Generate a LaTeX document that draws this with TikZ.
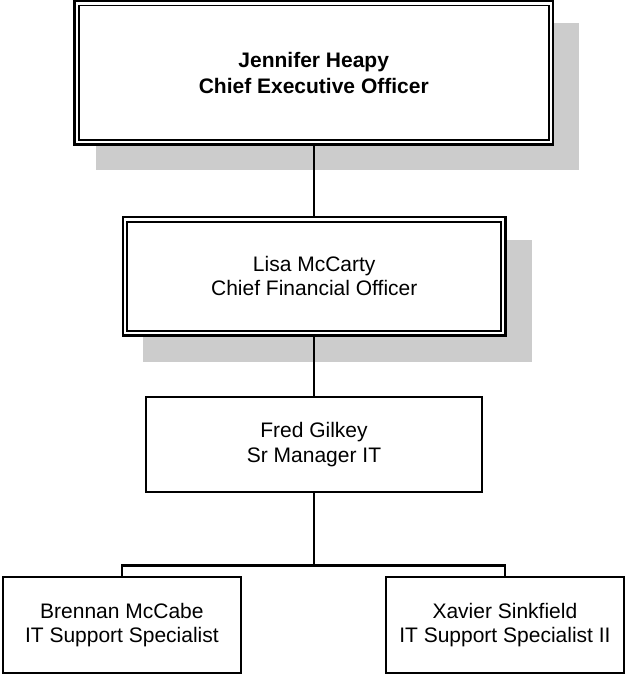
\documentclass[tikz,border=0pt]{standalone}
\usepackage{fontspec}
\setmainfont{Liberation Sans}
\usetikzlibrary{backgrounds}
\definecolor{shadowgray}{RGB}{204,204,204}
\tikzset{
  box/.style={draw=black, fill=white, rectangle, inner sep=0pt, outer sep=0pt,
    align=center, font=\fontsize{21}{24.4}\selectfont},
  outerline/.style={line width=2.4pt},
  innerline/.style={draw=black, line width=1.5pt},
  plainbox/.style={box, line width=2.1pt},
  shadowfill/.style={fill=shadowgray},
  conn/.style={draw=black, line width=2.1pt},
  busline/.style={draw=black, line width=2.5pt}
}
\begin{document}
\begin{tikzpicture}[x=1pt, y=-1pt]
  \useasboundingbox (0,0) rectangle (625,674);

  % boxes
  \node[box, outerline, minimum width=478.5pt, minimum height=143.2pt, font=\fontsize{21}{26.5}\selectfont\bfseries]
    (ceo) at (313.75,72.9) {Jennifer Heapy\\Chief Executive Officer};
  \draw[innerline] ([shift={(4.4,4.2)}]ceo.north west) rectangle ([shift={(-4.2,-4.4)}]ceo.south east);

  \node[box, outerline, minimum width=382.5pt, minimum height=118.5pt]
    (cfo) at (314.25,276.25) {Lisa McCarty\\Chief Financial Officer};
  \draw[innerline] ([shift={(4.2,5)}]cfo.north west) rectangle ([shift={(-4.4,-4.5)}]cfo.south east);

  \node[plainbox, minimum width=336pt, minimum height=95.3pt]
    (fred) at (314,444.6) {Fred Gilkey\\Sr Manager IT};

  \node[plainbox, minimum width=238.2pt, minimum height=96pt]
    (brennan) at (121.9,625) {Brennan McCabe\\IT Support Specialist};

  \node[plainbox, minimum width=238pt, minimum height=96pt]
    (xavier) at (504.9,625) {Xavier Sinkfield\\IT Support Specialist II};

  \coordinate (bus) at (314,565.5);

  % shadows and connectors behind the boxes
  \begin{pgfonlayer}{background}
    \fill[shadowfill] ([shift={(21.5,22)}]ceo.north west) rectangle ([shift={(26.3,25.5)}]ceo.south east);
    \fill[shadowfill] ([shift={(20.3,23)}]cfo.north west) rectangle ([shift={(26.2,26.2)}]cfo.south east);

    \draw[conn] (ceo.south) -- (ceo.south |- cfo.north);
    \draw[conn] (cfo.south) -- (cfo.south |- fred.north);
    \draw[busline] (fred.south) -- (bus);
    \draw[busline] (brennan.north) |- (bus) -| (xavier.north);
  \end{pgfonlayer}
\end{tikzpicture}
\end{document}
